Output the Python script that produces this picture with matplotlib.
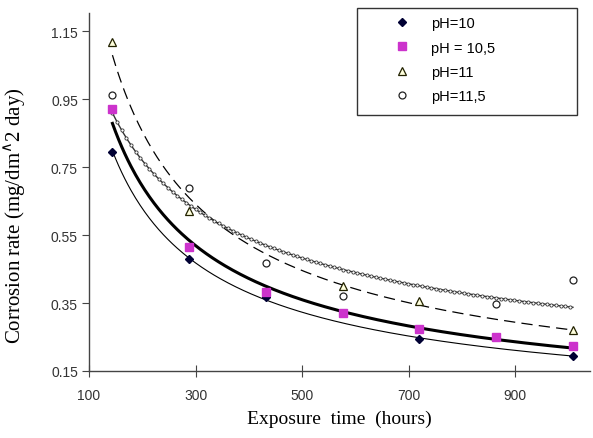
import numpy as np
import matplotlib
matplotlib.use("Agg")
import matplotlib.pyplot as plt
from matplotlib.patches import Rectangle

# Données (temps en heures, vitesse en mg/dm^2 jour)
t_ph10 = [144, 288, 432, 720, 1008]
v_ph10 = [0.794, 0.479, 0.368, 0.244, 0.194]

t_ph105 = [144, 288, 432, 576, 720, 864, 1008]
v_ph105 = [0.920, 0.515, 0.382, 0.320, 0.274, 0.250, 0.224]

t_ph11 = [144, 288, 576, 720, 1008]
v_ph11 = [1.118, 0.620, 0.400, 0.356, 0.270]

t_ph115 = [144, 288, 432, 576, 864, 1008]
v_ph115 = [0.962, 0.688, 0.468, 0.371, 0.347, 0.418]

labels = ["pH=10", "pH = 10,5", "pH=11", "pH=11,5"]
x_ticks = [100, 300, 500, 700, 900]
y_ticks = [0.15, 0.35, 0.55, 0.75, 0.95, 1.15]


def power_fit(t, v):
    # courbe de tendance puissance (comme Excel)
    b, a = np.polyfit(np.log(t), np.log(v), 1)
    tt = np.linspace(min(t), max(t), 300)
    return tt, np.exp(a) * tt ** b


plt.rcParams["font.family"] = ["Liberation Sans", "DejaVu Sans"]
fig = plt.figure(figsize=(5.93, 4.39), dpi=100)
ax = fig.add_axes([89 / 593, 67 / 439, 501 / 593, 358 / 439])

# courbes de tendance
tt, ff = power_fit(t_ph10, v_ph10)
ax.plot(tt, ff, color="black", lw=0.8)
tt, ff = power_fit(t_ph105, v_ph105)
ax.plot(tt, ff, color="black", lw=2.2)
tt, ff = power_fit(t_ph11, v_ph11)
ax.plot(tt, ff, color="black", lw=0.9, dashes=(9, 5))
tt, ff = power_fit(t_ph115, v_ph115)
ax.plot(tt, ff, color="#333333", lw=1.0, marker="o", ms=2.3, mfc="white",
        mec="#333333", mew=0.6, markevery=3)

# points
h1, = ax.plot(t_ph10, v_ph10, "D", ms=4.5, color="#000033", ls="none", label=labels[0])
h2, = ax.plot(t_ph105, v_ph105, "s", ms=5.5, color="#cc33cc", ls="none", label=labels[1])
h3, = ax.plot(t_ph11, v_ph11, "^", ms=6, mfc="#ffffdd", mec="#222200", mew=0.9,
              ls="none", label=labels[2])
h4, = ax.plot(t_ph115, v_ph115, "o", ms=5, mfc="white", mec="#222222", mew=0.9,
              ls="none", label=labels[3])

ax.set_xlim(100, 1040)
ax.set_ylim(0.15, 1.203)
ax.set_xticks(x_ticks)
ax.set_yticks(y_ticks)
ax.set_yticklabels([f"{y:.2f}" for y in y_ticks])

for s in ["top", "right"]:
    ax.spines[s].set_visible(False)
for s in ["left", "bottom"]:
    ax.spines[s].set_color("#444444")
    ax.spines[s].set_linewidth(1.0)

ax.tick_params(axis="x", direction="inout", length=8, colors="#444444",
               labelcolor="#333333", labelsize=10, pad=8)
ax.tick_params(axis="y", direction="out", length=5, colors="#444444",
               labelcolor="#333333", labelsize=10, pad=3)

ax.set_xlabel("Exposure  time  (hours)", family="Liberation Serif", fontsize=14, labelpad=6)
ax.set_ylabel("Corrosion rate (mg/dm$^{\\wedge}$2 day)", family="Liberation Serif",
              fontsize=15)
ax.yaxis.set_label_coords(-0.122, 0.436)

# légende
leg = fig.legend(handles=[h1, h2, h3, h4], loc="upper left",
                 bbox_to_anchor=(395 / 593, 1 - 17 / 439), frameon=False,
                 fontsize=10.5, handlelength=1.0, handletextpad=1.5,
                 labelspacing=0.72, borderpad=0, borderaxespad=0)
fig.patches.append(Rectangle((357 / 593, 1 - 116 / 439), 220 / 593, 107 / 439,
                             transform=fig.transFigure, fill=False,
                             edgecolor="#333333", lw=1.0))

fig.savefig("out.png", dpi=100)
